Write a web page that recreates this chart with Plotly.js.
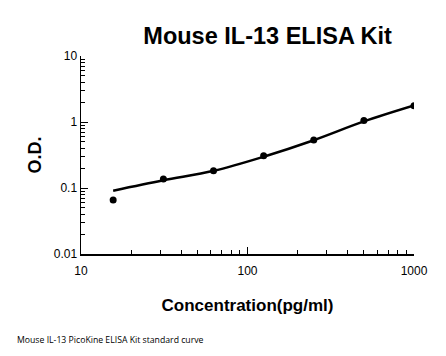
<!DOCTYPE html>
<html><head><meta charset="utf-8">
<script src="https://cdn.plot.ly/plotly-3.0.1.min.js"></script>
<style>html,body{margin:0;padding:0;background:#fff}#c{width:446px;height:356px}</style>
</head><body><div id="c"></div>
<script>
const concentration = [15.6, 31.25, 62.5, 125, 250, 500, 1000];
const odValues = [0.066, 0.137, 0.183, 0.309, 0.534, 1.05, 1.77];
const curveX = [15.6, 31.25, 62.5, 125, 250, 500, 1000];
const curveY = [0.091, 0.131, 0.182, 0.298, 0.53, 1.02, 1.78];
const yTickVals = [0.01, 0.1, 1, 10];
const yTickText = ['0.01', '0.1', '1', '10'];
const xTickVals = [10, 100, 1000];
const xTickText = ['10', '100', '1000'];

const traces = [
  {x: curveX, y: curveY, mode: 'lines', line: {color: '#000', width: 2.5, shape: 'spline', smoothing: 1}, hoverinfo: 'skip'},
  {x: concentration, y: odValues, mode: 'markers', marker: {color: '#000', size: 7}}
];
const layout = {
  width: 446, height: 356,
  margin: {l: 81, r: 32, t: 56, b: 102},
  paper_bgcolor: '#fff', plot_bgcolor: '#fff',
  showlegend: false,
  font: {family: 'Liberation Sans, Arial, sans-serif', color: '#000'},
  title: {text: '<b>Mouse IL-13 ELISA Kit</b>', font: {size: 23.5, color: '#000'}, x: 0.6, xanchor: 'center', y: 0.9, yanchor: 'middle'},
  xaxis: {
    type: 'log', range: [1, 3], showgrid: false, zeroline: false,
    showline: true, linecolor: '#000', linewidth: 1.5,
    ticks: 'inside', ticklen: 7, tickcolor: '#000',
    tickvals: xTickVals, ticktext: xTickText, tickfont: {size: 12}, ticklabelstandoff: 5,
    minor: {ticks: 'inside', ticklen: 4, tickcolor: '#000', dtick: 'D1', showgrid: false},
    title: {text: '<b>Concentration(pg/ml)</b>', font: {size: 17}, standoff: 22}
  },
  yaxis: {
    type: 'log', range: [-2, 1], showgrid: false, zeroline: false,
    showline: true, linecolor: '#000', linewidth: 1.5,
    ticks: 'inside', ticklen: 7, tickcolor: '#000',
    tickvals: yTickVals, ticktext: yTickText, tickfont: {size: 12},
    minor: {ticks: 'inside', ticklen: 4, tickcolor: '#000', dtick: 'D1', showgrid: false},
    title: {text: '<b>O.D.</b>', font: {size: 18}, standoff: 7}
  },
  annotations: [{
    text: 'Mouse IL-13 PicoKine ELISA Kit standard curve', xref: 'paper', yref: 'paper',
    x: -66/333, y: -86/198, xanchor: 'left', yanchor: 'middle', showarrow: false,
    font: {size: 8.7, family: 'Open Sans, Liberation Sans, sans-serif', color: '#000'}
  }]
};
Plotly.newPlot('c', traces, layout, {staticPlot: true, displayModeBar: false});
</script></body></html>
